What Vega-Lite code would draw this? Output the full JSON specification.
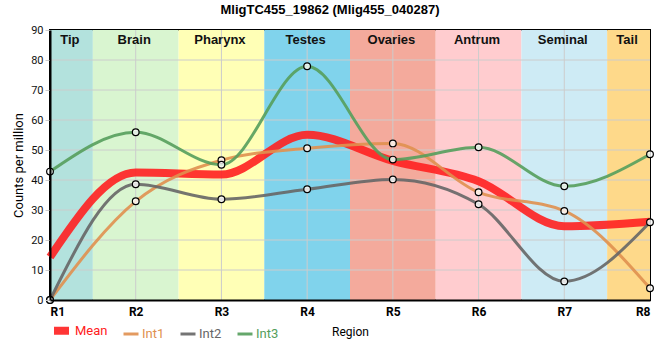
{
  "$schema": "https://vega.github.io/schema/vega-lite/v6.json",
  "width": 600,
  "height": 270,
  "autosize": {"type": "none"},
  "padding": {"left": 50, "top": 30, "right": 10, "bottom": 60},
  "background": "white",
  "title": {"text": "MligTC455_19862 (Mlig455_040287)", "font": "Liberation Sans", "fontSize": 13, "fontWeight": "bold", "color": "#000", "offset": 7, "anchor": "middle", "dx": -20},
  "config": {
    "view": {"stroke": "black", "strokeWidth": 2},
    "font": "Roboto",
    "axisX": {"grid": false, "ticks": false, "domain": true, "domainColor": "black", "domainWidth": 2, "labelFont": "Roboto", "labelFontSize": 12, "labelFontWeight": "bold", "labelColor": "#000", "labelPadding": 6, "titleFont": "Roboto", "titleFontSize": 12, "titleFontWeight": "normal", "titleColor": "#000", "titlePadding": 9},
    "axisY": {"grid": false, "ticks": true, "tickSize": 5, "tickColor": "#cccccc", "domain": true, "domainColor": "black", "domainWidth": 2, "labelFont": "Roboto", "labelFontSize": 11, "labelColor": "#111", "labelPadding": 2, "titleFont": "Roboto", "titleFontSize": 13, "titleFontWeight": "normal", "titleColor": "#000", "titlePadding": 5}
  },
  "datasets": {
    "bands": [
      {"name": "Tip", "start": 1, "end": 1.5, "mid": 1.25},
      {"name": "Brain", "start": 1.5, "end": 2.5, "mid": 2},
      {"name": "Pharynx", "start": 2.5, "end": 3.5, "mid": 3},
      {"name": "Testes", "start": 3.5, "end": 4.5, "mid": 4},
      {"name": "Ovaries", "start": 4.5, "end": 5.5, "mid": 5},
      {"name": "Antrum", "start": 5.5, "end": 6.5, "mid": 6},
      {"name": "Seminal", "start": 6.5, "end": 7.5, "mid": 7},
      {"name": "Tail", "start": 7.5, "end": 8, "mid": 7.75}
    ],
    "xgrid": [{"v": 2}, {"v": 3}, {"v": 4}, {"v": 5}, {"v": 6}, {"v": 7}],
    "ygrid": [{"v": 10}, {"v": 20}, {"v": 30}, {"v": 40}, {"v": 50}, {"v": 60}, {"v": 70}, {"v": 80}],
    "main": [
      {"series": "Mean", "r": 1, "value": 14.3},
      {"series": "Mean", "r": 2, "value": 42.5},
      {"series": "Mean", "r": 3, "value": 41.8},
      {"series": "Mean", "r": 4, "value": 55.1},
      {"series": "Mean", "r": 5, "value": 46.4},
      {"series": "Mean", "r": 6, "value": 39.6},
      {"series": "Mean", "r": 7, "value": 24.6},
      {"series": "Mean", "r": 8, "value": 26.1},
      {"series": "Int1", "r": 1, "value": 0},
      {"series": "Int1", "r": 2, "value": 32.9},
      {"series": "Int1", "r": 3, "value": 46.6},
      {"series": "Int1", "r": 4, "value": 50.6},
      {"series": "Int1", "r": 5, "value": 52.2},
      {"series": "Int1", "r": 6, "value": 35.9},
      {"series": "Int1", "r": 7, "value": 29.7},
      {"series": "Int1", "r": 8, "value": 3.9},
      {"series": "Int2", "r": 1, "value": 0},
      {"series": "Int2", "r": 2, "value": 38.6},
      {"series": "Int2", "r": 3, "value": 33.6},
      {"series": "Int2", "r": 4, "value": 36.9},
      {"series": "Int2", "r": 5, "value": 40.2},
      {"series": "Int2", "r": 6, "value": 31.9},
      {"series": "Int2", "r": 7, "value": 6.2},
      {"series": "Int2", "r": 8, "value": 25.9},
      {"series": "Int3", "r": 1, "value": 42.8},
      {"series": "Int3", "r": 2, "value": 55.9},
      {"series": "Int3", "r": 3, "value": 45.1},
      {"series": "Int3", "r": 4, "value": 77.9},
      {"series": "Int3", "r": 5, "value": 46.8},
      {"series": "Int3", "r": 6, "value": 50.9},
      {"series": "Int3", "r": 7, "value": 37.9},
      {"series": "Int3", "r": 8, "value": 48.6}
    ]
  },
  "layer": [
    {
      "data": {"name": "bands"},
      "mark": {"type": "rect"},
      "encoding": {
        "x": {"field": "start", "type": "quantitative", "scale": {"domain": [1, 8], "nice": false, "zero": false}, "title": "Region", "axis": {"values": [1, 2, 3, 4, 5, 6, 7, 8], "labelExpr": "'R' + datum.value", "zindex": 1}},
        "x2": {"field": "end"},
        "fill": {"field": "name", "type": "nominal", "legend": null, "scale": {"domain": ["Tip", "Brain", "Pharynx", "Testes", "Ovaries", "Antrum", "Seminal", "Tail"], "range": ["#b3e2dd", "#d9f5d0", "#ffffb6", "#80d3ec", "#f4aa9c", "#ffcccf", "#ceebf5", "#fed98a"]}}
      }
    },
    {
      "data": {"name": "xgrid"},
      "mark": {"type": "rule", "color": "#cccccc", "strokeWidth": 1},
      "encoding": {
        "x": {"field": "v", "type": "quantitative", "scale": {"domain": [1, 8], "nice": false, "zero": false}, "title": "Region", "axis": {"values": [1, 2, 3, 4, 5, 6, 7, 8], "labelExpr": "'R' + datum.value", "zindex": 1}}
      }
    },
    {
      "data": {"name": "ygrid"},
      "mark": {"type": "rule", "color": "#cccccc", "strokeWidth": 1},
      "encoding": {
        "y": {"field": "v", "type": "quantitative", "scale": {"domain": [0, 90], "nice": false}, "title": "Counts per million", "axis": {"values": [0, 10, 20, 30, 40, 50, 60, 70, 80, 90], "zindex": 1}}
      }
    },
    {
      "data": {"name": "main"},
      "mark": {"type": "line", "interpolate": "monotone", "strokeCap": "butt", "opacity": 0.9},
      "encoding": {
        "x": {"field": "r", "type": "quantitative", "scale": {"domain": [1, 8], "nice": false, "zero": false}, "title": "Region", "axis": {"values": [1, 2, 3, 4, 5, 6, 7, 8], "labelExpr": "'R' + datum.value", "zindex": 1}},
        "y": {"field": "value", "type": "quantitative", "scale": {"domain": [0, 90], "nice": false}, "title": "Counts per million", "axis": {"values": [0, 10, 20, 30, 40, 50, 60, 70, 80, 90], "zindex": 1}},
        "color": {"field": "series", "type": "nominal", "scale": {"domain": ["Mean", "Int1", "Int2", "Int3"], "range": ["#ff2020", "#e0904f", "#666666", "#559e5c"]},
          "legend": {"orient": "none", "legendX": 0, "legendY": 289, "direction": "horizontal", "title": null, "symbolType": "stroke", "symbolSize": 225, "labelFont": "Roboto", "labelFontSize": 13, "labelOffset": 2, "columnPadding": 9, "padding": 0, "labelColor": {"expr": "scale('color', datum.value)"}}},
        "strokeWidth": {"field": "series", "type": "nominal", "scale": {"type": "ordinal", "domain": ["Mean", "Int1", "Int2", "Int3"], "range": [8, 3, 3, 3]},
          "legend": {"orient": "none", "legendX": 0, "legendY": 289, "direction": "horizontal", "title": null, "symbolType": "stroke", "symbolSize": 225, "labelFont": "Roboto", "labelFontSize": 13, "labelOffset": 2, "columnPadding": 9, "padding": 0, "labelColor": {"expr": "scale('color', datum.value)"}}}
      }
    },
    {
      "data": {"name": "main"},
      "transform": [{"filter": "datum.series != 'Mean'"}],
      "mark": {"type": "point", "shape": "circle", "filled": false, "fill": "#ffffff", "fillOpacity": 0.8, "stroke": "#000000", "strokeWidth": 1.2, "size": 45, "opacity": 1},
      "encoding": {
        "x": {"field": "r", "type": "quantitative", "scale": {"domain": [1, 8], "nice": false, "zero": false}, "title": "Region", "axis": {"values": [1, 2, 3, 4, 5, 6, 7, 8], "labelExpr": "'R' + datum.value", "zindex": 1}},
        "y": {"field": "value", "type": "quantitative", "scale": {"domain": [0, 90], "nice": false}, "title": "Counts per million", "axis": {"values": [0, 10, 20, 30, 40, 50, 60, 70, 80, 90], "zindex": 1}}
      }
    },
    {
      "data": {"name": "bands"},
      "mark": {"type": "text", "font": "Liberation Sans", "fontSize": 13, "fontWeight": "bold", "color": "#111", "baseline": "middle", "align": "center", "dx": -1.5},
      "encoding": {
        "x": {"field": "mid", "type": "quantitative", "scale": {"domain": [1, 8], "nice": false, "zero": false}, "title": "Region", "axis": {"values": [1, 2, 3, 4, 5, 6, 7, 8], "labelExpr": "'R' + datum.value", "zindex": 1}},
        "y": {"datum": 86.8, "type": "quantitative", "scale": {"domain": [0, 90], "nice": false}, "title": "Counts per million", "axis": {"values": [0, 10, 20, 30, 40, 50, 60, 70, 80, 90], "zindex": 1}},
        "text": {"field": "name", "type": "nominal"}
      }
    }
  ]
}
